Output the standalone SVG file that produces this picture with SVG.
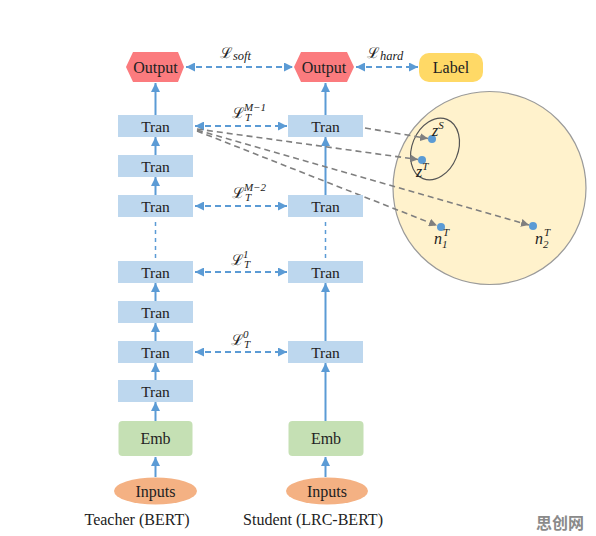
<svg xmlns="http://www.w3.org/2000/svg" width="596" height="536" viewBox="0 0 596 536">
<style>
.tran{fill:#bdd7ee}
.emb{fill:#c5e0b4}
.inp{fill:#f4b183}
.out{fill:#fb7b7e}
.lbl{fill:#ffd966}
.t{font-family:"Liberation Serif","Times New Roman","DejaVu Serif",serif;font-size:16px;fill:#222;text-anchor:middle}
.tt{font-family:"Liberation Serif","Times New Roman","DejaVu Serif",serif;font-size:15.5px;fill:#222;text-anchor:middle}
.m{font-family:"DejaVu Serif","Liberation Serif",serif;font-size:15px;fill:#222}
.mi{font-family:"Liberation Serif","Times New Roman",serif;font-style:italic;fill:#222}
.up{stroke:#5b9bd5;stroke-width:2;fill:none}
.dl{stroke:#5b9bd5;stroke-width:2;stroke-dasharray:6 4;fill:none}
.dot{stroke:#5b9bd5;stroke-width:1.5;stroke-dasharray:4 4;fill:none}
.gr{stroke:#7f7f7f;stroke-width:1.6;stroke-dasharray:6 4;fill:none}
</style>
<defs>
<marker id="ab" viewBox="0 0 10 10" refX="10" refY="5" markerUnits="userSpaceOnUse" markerWidth="9" markerHeight="9" orient="auto-start-reverse"><path d="M0,0 L10,5 L0,10 z" fill="#5b9bd5"/></marker>
<marker id="ag" viewBox="0 0 10 10" refX="10" refY="5" markerUnits="userSpaceOnUse" markerWidth="8" markerHeight="8" orient="auto"><path d="M0,0 L10,5 L0,10 z" fill="#7f7f7f"/></marker>
</defs>

<g id="space">
<circle cx="489.5" cy="188" r="96.5" fill="#fff2cc" stroke="#9a9a9a" stroke-width="1.2"/>
<ellipse cx="435" cy="149" rx="23" ry="32" transform="rotate(22 435 149)" fill="none" stroke="#555" stroke-width="1.2"/>
</g>

<g id="connectors">
<line class="up" x1="155.5" y1="115" x2="155.5" y2="83" marker-end="url(#ab)"/>
<line class="up" x1="155.5" y1="155" x2="155.5" y2="137" marker-end="url(#ab)"/>
<line class="up" x1="155.5" y1="195" x2="155.5" y2="177" marker-end="url(#ab)"/>
<line class="dot" x1="155.5" y1="222" x2="155.5" y2="258"/>
<line class="up" x1="155.5" y1="301" x2="155.5" y2="283" marker-end="url(#ab)"/>
<line class="up" x1="155.5" y1="341" x2="155.5" y2="323" marker-end="url(#ab)"/>
<line class="up" x1="155.5" y1="380" x2="155.5" y2="363" marker-end="url(#ab)"/>
<line class="up" x1="155.5" y1="421" x2="155.5" y2="402" marker-end="url(#ab)"/>
<line class="up" x1="155.5" y1="477" x2="155.5" y2="457" marker-end="url(#ab)"/>

<line class="up" x1="325.5" y1="115" x2="325.5" y2="83" marker-end="url(#ab)"/>
<line class="up" x1="325.5" y1="195" x2="325.5" y2="137" marker-end="url(#ab)"/>
<line class="dot" x1="325.5" y1="222" x2="325.5" y2="258"/>
<line class="up" x1="325.5" y1="341" x2="325.5" y2="283" marker-end="url(#ab)"/>
<line class="up" x1="325.5" y1="421" x2="325.5" y2="363" marker-end="url(#ab)"/>
<line class="up" x1="325.5" y1="477" x2="325.5" y2="457" marker-end="url(#ab)"/>

<line class="dl" x1="186" y1="67" x2="293" y2="67" marker-start="url(#ab)" marker-end="url(#ab)"/>
<line class="dl" x1="356" y1="67" x2="418" y2="67" marker-start="url(#ab)" marker-end="url(#ab)"/>
<line class="dl" x1="195" y1="126" x2="287" y2="126" marker-start="url(#ab)" marker-end="url(#ab)"/>
<line class="dl" x1="195" y1="206" x2="287" y2="206" marker-start="url(#ab)" marker-end="url(#ab)"/>
<line class="dl" x1="195" y1="272" x2="287" y2="272" marker-start="url(#ab)" marker-end="url(#ab)"/>
<line class="dl" x1="195" y1="352" x2="287" y2="352" marker-start="url(#ab)" marker-end="url(#ab)"/>

<line class="gr" x1="365" y1="128" x2="428" y2="138.5" marker-end="url(#ag)"/>
<line class="gr" x1="197" y1="129" x2="418" y2="159.5" marker-end="url(#ag)"/>
<line class="gr" x1="197" y1="130" x2="529" y2="225" marker-end="url(#ag)"/>
<line class="gr" x1="197" y1="131" x2="437" y2="225.5" marker-end="url(#ag)"/>
</g>

<g id="loss-labels">
<text class="m" x="220" y="58">ℒ<tspan class="mi" font-size="12.5" dy="2">soft</tspan></text>
<text class="m" x="367" y="58">ℒ<tspan class="mi" font-size="12.5" dy="2">hard</tspan></text>
<text class="m" x="232" y="118">ℒ<tspan class="mi" font-size="11" dy="3">T</tspan><tspan class="mi" font-size="11" x="244" dy="-10">M−1</tspan></text>
<text class="m" x="232" y="198">ℒ<tspan class="mi" font-size="11" dy="3">T</tspan><tspan class="mi" font-size="11" x="244" dy="-10">M−2</tspan></text>
<text class="m" x="231" y="265">ℒ<tspan class="mi" font-size="11" dy="3">T</tspan><tspan class="mi" font-size="11" x="243" dy="-10">1</tspan></text>
<text class="m" x="231" y="345">ℒ<tspan class="mi" font-size="11" dy="3">T</tspan><tspan class="mi" font-size="11" x="243" dy="-10">0</tspan></text>
</g>

<g id="points">
<circle cx="432" cy="139" r="4" fill="#5b9bd5"/>
<circle cx="422" cy="160" r="4" fill="#5b9bd5"/>
<circle cx="441" cy="227" r="4" fill="#5b9bd5"/>
<circle cx="533" cy="226" r="4" fill="#5b9bd5"/>
<text class="mi" font-size="16" x="432" y="136">z<tspan font-size="11" dy="-7">S</tspan></text>
<text class="mi" font-size="16" x="416" y="177">z<tspan font-size="11" dy="-7">T</tspan></text>
<text class="mi" font-size="16" x="434" y="244">n<tspan font-size="11" dy="4">1</tspan><tspan font-size="11" x="443" dy="-12">T</tspan></text>
<text class="mi" font-size="16" x="535" y="244">n<tspan font-size="11" dy="4">2</tspan><tspan font-size="11" x="544" dy="-12">T</tspan></text>
</g>

<g id="t-output"><polygon class="out" points="126,67 133,52 178,52 184,67 178,82 133,82"/><text class="t" x="155.5" y="72.5">Output</text></g>
<g id="s-output"><polygon class="out" points="294,67 301,52 347,52 354,67 347,82 301,82"/><text class="t" x="324" y="72.5">Output</text></g>
<g id="label"><rect class="lbl" x="419" y="53" width="64" height="29" rx="10"/><text class="t" x="451" y="72.5">Label</text></g>

<g id="t-tran-1"><rect class="tran" x="118" y="115" width="75" height="22"/><text class="tt" x="155.5" y="131.5">Tran</text></g>
<g id="t-tran-2"><rect class="tran" x="118" y="155" width="75" height="22"/><text class="tt" x="155.5" y="171.5">Tran</text></g>
<g id="t-tran-3"><rect class="tran" x="118" y="195" width="75" height="22"/><text class="tt" x="155.5" y="211.5">Tran</text></g>
<g id="t-tran-4"><rect class="tran" x="118" y="261" width="75" height="22"/><text class="tt" x="155.5" y="277.5">Tran</text></g>
<g id="t-tran-5"><rect class="tran" x="118" y="301" width="75" height="22"/><text class="tt" x="155.5" y="317.5">Tran</text></g>
<g id="t-tran-6"><rect class="tran" x="118" y="341" width="75" height="22"/><text class="tt" x="155.5" y="357.5">Tran</text></g>
<g id="t-tran-7"><rect class="tran" x="118" y="380" width="75" height="22"/><text class="tt" x="155.5" y="396.5">Tran</text></g>
<g id="t-emb"><rect class="emb" x="118.5" y="421" width="74" height="35" rx="4"/><text class="t" x="155.5" y="444">Emb</text></g>
<g id="t-inputs"><ellipse class="inp" cx="155.5" cy="491" rx="41.5" ry="13.5"/><text class="t" x="155.5" y="496.5">Inputs</text></g>

<g id="s-tran-1"><rect class="tran" x="288" y="115" width="75" height="22"/><text class="tt" x="325.5" y="131.5">Tran</text></g>
<g id="s-tran-2"><rect class="tran" x="288" y="195" width="75" height="22"/><text class="tt" x="325.5" y="211.5">Tran</text></g>
<g id="s-tran-3"><rect class="tran" x="288" y="261" width="75" height="22"/><text class="tt" x="325.5" y="277.5">Tran</text></g>
<g id="s-tran-4"><rect class="tran" x="288" y="341" width="75" height="22"/><text class="tt" x="325.5" y="357.5">Tran</text></g>
<g id="s-emb"><rect class="emb" x="288.5" y="421" width="75" height="35" rx="4"/><text class="t" x="326" y="444">Emb</text></g>
<g id="s-inputs"><ellipse class="inp" cx="327" cy="491" rx="41" ry="13.5"/><text class="t" x="327" y="496.5">Inputs</text></g>

<g id="captions">
<text class="t" x="137" y="525">Teacher (BERT)</text>
<text class="t" x="313" y="525">Student (LRC-BERT)</text>
</g>

<text x="560" y="529" font-family="Noto Sans CJK SC,sans-serif" font-size="16" font-weight="bold" fill="#8a8a8a" text-anchor="middle">思创网</text>
</svg>
